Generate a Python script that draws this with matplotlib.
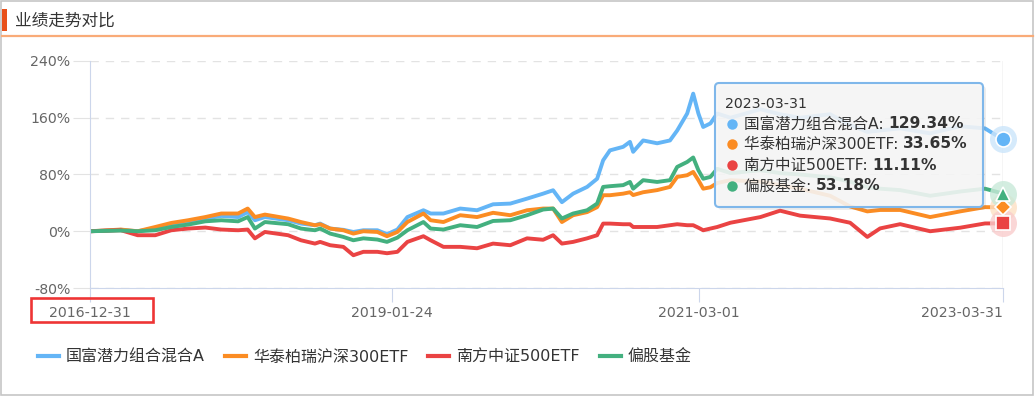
import matplotlib
matplotlib.use("Agg")
import matplotlib.pyplot as plt
import pandas as pd
from matplotlib.patches import Rectangle, FancyBboxPatch
from matplotlib.lines import Line2D
from matplotlib.ticker import FuncFormatter

plt.rcParams['font.family'] = ['DejaVu Sans', 'Noto Sans CJK SC']

# values (cumulative return, %)
dates = [
    "2016-12-31", "2017-03-18", "2017-04-29", "2017-06-12", "2017-07-22", "2017-09-02",
    "2017-10-15", "2017-11-24", "2018-01-05", "2018-01-29", "2018-02-16", "2018-03-13",
    "2018-05-10", "2018-06-11", "2018-07-16", "2018-07-29", "2018-08-23", "2018-09-25",
    "2018-10-20", "2018-11-14", "2018-12-19", "2019-01-12", "2019-02-07", "2019-03-04",
    "2019-04-13", "2019-05-01", "2019-06-02", "2019-07-14", "2019-08-25", "2019-10-04",
    "2019-11-16", "2019-12-28", "2020-02-06", "2020-03-02", "2020-03-24", "2020-04-21",
    "2020-05-26", "2020-06-20", "2020-07-05", "2020-07-22", "2020-08-24", "2020-09-10",
    "2020-09-18", "2020-10-13", "2020-11-17", "2020-12-19", "2021-01-06", "2021-01-31",
    "2021-02-15", "2021-02-28", "2021-03-12", "2021-03-30", "2021-04-16", "2021-05-19",
    "2021-08-02", "2021-09-20", "2021-11-09", "2022-01-23", "2022-03-14", "2022-04-26",
    "2022-05-28", "2022-07-17", "2022-09-30", "2022-12-14", "2023-02-14", "2023-03-31",
]
fund = [
    0, 2, 0, 4, 9.9, 13, 17.9, 21.6, 20, 27, 15.5, 20,
    15.5, 10.8, 8.5, 10.8, 3.8, 2, -1, 1.4, 1.4, -4.2, 2.4, 20,
    29.6, 25, 25, 32, 29.6, 38, 39, 46, 53, 57.8, 41, 53,
    62.5, 74, 100, 114, 119, 126, 112, 128, 124, 128, 142, 166,
    194, 166, 147, 152, 166, 160, 172, 165, 160, 165, 150, 140,
    142, 145, 138, 148, 145, 129.34,
]
hs300 = [
    0, 2.4, 0, 6, 11.7, 15.5, 20, 25, 25, 32, 20, 23.5,
    17.9, 13, 8.5, 9.9, 3.8, 1.4, -3.3, 0, -1, -7, -1, 13,
    25, 15.5, 13, 22.6, 20, 26, 22.6, 29.6, 32, 32, 13, 22.6,
    27, 34, 50.8, 50.8, 53, 55, 51, 55, 58, 62.5, 76.6, 79,
    83.6, 72, 60, 62, 68, 72, 70, 65, 60, 50, 35, 28,
    30, 30, 20, 28, 34, 33.65,
]
zz500 = [
    0, 1.5, -5.6, -5.6, 1.4, 3.8, 5.2, 2.4, 1.4, 2.4, -10, -1,
    -5.6, -12.7, -17.4, -15, -19.7, -22, -33.8, -29, -29, -31, -29, -15,
    -7, -12.7, -22, -22, -24, -17.4, -19.7, -10, -12, -5.6, -17.4, -15,
    -10, -5.6, 10.8, 10.8, 9.9, 9.9, 6, 6, 6, 8.5, 9.9, 8.5,
    8.5, 5, 1.4, 3.8, 6, 12, 20, 29, 22, 18, 12, -8,
    4, 10, 0, 5, 11, 11.11,
]
equity = [
    0, 1, 0, 1.4, 6, 9.4, 14, 15.5, 14, 20, 3.8, 13,
    9.9, 3.8, 1.4, 3.8, -3.3, -8, -12.7, -10, -11.7, -15, -9, 1.4,
    13, 3.8, 2.4, 8.5, 6, 14.5, 15.5, 22.6, 30.6, 32, 18, 25,
    29.6, 39, 62.5, 63.5, 65, 69.5, 60, 72, 69.5, 72, 90.7, 97.7,
    104, 86, 74, 76.6, 88, 82, 86, 82, 80, 76, 70, 62,
    60, 58, 50, 56, 60, 53.18,
]
names = ["国富潜力组合混合A", "华泰柏瑞沪深300ETF", "南方中证500ETF", "偏股基金"]
colors = ["#64b5f6", "#fb8c23", "#ea4343", "#43b07f"]
halos = ["#cbe5fb", "#fde0c4", "#f9cccc", "#c9e9d9"]
markers = ["o", "D", "s", "^"]
marker_px = [15, 11, 14, 14]
tick_dates = ["2016-12-31", "2019-01-24", "2021-03-01", "2023-03-31"]
tooltip_date = "2023-03-31"

W, H = 1036, 397
x = pd.to_datetime(dates)
all_series = [fund, hs300, zz500, equity]


def fx(px):
    return px / W


def fy(py):
    return 1 - py / H


fig = plt.figure(figsize=(W / 100, H / 100), dpi=100)
fig.patch.set_facecolor("white")

# frame, title bar
fig.patches.append(Rectangle((fx(1), fy(395)), fx(1032), 394 / H, transform=fig.transFigure,
                             fill=False, edgecolor="#c6c6c6", lw=1.2))
fig.patches.append(Rectangle((fx(2), fy(31)), fx(4.5), 22 / H, transform=fig.transFigure,
                             facecolor="#e8501a", edgecolor="none"))
fig.lines.append(Line2D([fx(2), fx(1033)], [fy(36), fy(36)], transform=fig.transFigure,
                        color="#f9ab78", lw=1.6))
fig.text(fx(15), fy(21), "业绩走势对比", fontsize=12, color="#333333", va="center")

ax = fig.add_axes([fx(90), fy(288), 913 / W, 227 / H])
for s, c, n in zip(all_series, colors, names):
    ax.plot(x, s, color=c, lw=2.8, label=n, solid_joinstyle="round")

# end markers with halo
for s, c, h in zip(all_series, colors, halos):
    ax.plot(x[-1], s[-1], marker="o", ms=27 * 0.72, color=h, mec="none",
            clip_on=False, zorder=5, alpha=0.8)
for s, c, m, sz in zip(all_series, colors, markers, marker_px):
    ax.plot(x[-1], s[-1], marker=m, ms=sz * 0.72, color=c, mec="white", mew=1.2,
            clip_on=False, zorder=6)

ax.set_xlim(x[0], x[-1])
ax.set_ylim(-80, 240)
ax.set_yticks([-80, 0, 80, 160, 240])
ax.yaxis.set_major_formatter(FuncFormatter(lambda v, p: f"{int(v)}%"))
ax.yaxis.grid(True, ls=(0, (6, 5)), color="#e3e3e3", lw=1)
ax.set_axisbelow(True)
ax.set_xticks(pd.to_datetime(tick_dates))
ax.set_xticklabels(tick_dates)
ax.axvline(pd.to_datetime(tooltip_date), color="#d0d0d0", lw=1, zorder=1)
for side in ["top", "right"]:
    ax.spines[side].set_visible(False)
for side in ["left", "bottom"]:
    ax.spines[side].set_color("#ccd6eb")
ax.tick_params(axis="y", length=12, color="#e3e3e3", labelsize=10.2, labelcolor="#666666", pad=2)
ax.tick_params(axis="x", length=10, color="#ccd6eb", labelsize=10.2, labelcolor="#666666", pad=3)
ax.get_xticklabels()[-1].set_ha("right")

# highlight box round the first date label
fig.patches.append(Rectangle((fx(31), fy(322)), 122 / W, 24 / H, transform=fig.transFigure,
                             fill=False, edgecolor="#ee3535", lw=1.9))

# legend
handles = [Line2D([0], [0], color=c, lw=3) for c in colors]
fig.legend(handles, names, loc="center left", bbox_to_anchor=(fx(38), fy(357)), ncol=4,
           frameon=False, fontsize=11.5, handlelength=1.3, handletextpad=0.45,
           columnspacing=1.25, borderpad=0, borderaxespad=0, labelcolor="#333333")

# tooltip
asp = W / H
fig.patches.append(FancyBboxPatch((fx(718), fy(210)), 268 / W, 124 / H, transform=fig.transFigure,
                                  boxstyle="round,pad=0,rounding_size=0.004", mutation_aspect=asp,
                                  facecolor="#888888", edgecolor="none", alpha=0.15))
fig.patches.append(FancyBboxPatch((fx(715), fy(207)), 268 / W, 124 / H, transform=fig.transFigure,
                                  boxstyle="round,pad=0,rounding_size=0.004", mutation_aspect=asp,
                                  facecolor=(0.97, 0.97, 0.97, 0.88), edgecolor="#7fb7ea", lw=1.5))
fig.text(fx(725), fy(104), tooltip_date, fontsize=10.2, color="#333333", va="center")
renderer = fig.canvas.get_renderer()
row_y = [124, 144, 165, 186]
for n, c, s, ry in zip(names, colors, all_series, row_y):
    fig.lines.append(Line2D([fx(732)], [fy(ry)], marker="o", ms=7.5, color=c, mec="none",
                            transform=fig.transFigure))
    t = fig.text(fx(744), fy(ry), n + ": ", fontsize=11.2, color="#333333", va="center")
    bb = t.get_window_extent(renderer=renderer)
    fig.text(bb.x1 / W, fy(ry), f"{s[-1]:.2f}%", fontsize=11.2, color="#333333",
             va="center", fontweight="bold")

fig.savefig("out.png", dpi=100)
